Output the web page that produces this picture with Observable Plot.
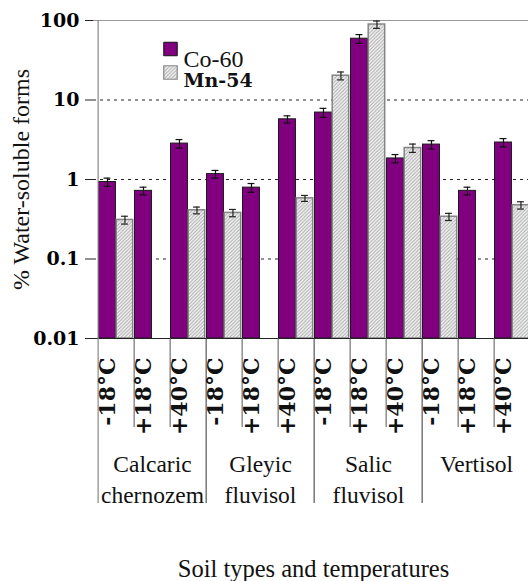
<!DOCTYPE html>
<html>
<head>
<meta charset="utf-8">
<script src="https://cdn.jsdelivr.net/npm/d3@7"></script>
<script src="https://cdn.jsdelivr.net/npm/@observablehq/plot@0.6"></script>
<style>
  html, body { margin: 0; padding: 0; background: #fff; overflow: hidden; }
  #chart svg { display: block; }
</style>
</head>
<body>
<div id="chart"></div>
<script>
// ---- data ----
const soils = ["Calcaric chernozem", "Gleyic fluvisol", "Salic fluvisol", "Vertisol"];
const soilLabels = ["Calcaric\nchernozem", "Gleyic\nfluvisol", "Salic\nfluvisol", "Vertisol"];
const temps = ["-18°C", "+18°C", "+40°C"];
const co60    = [0.93, 0.72, 2.83,  1.17, 0.79, 5.72,  6.95, 59, 1.84,  2.75, 0.72, 2.92];
const co60Err = [0.11, 0.08, 0.35,  0.13, 0.10, 0.60,  0.90, 7.5, 0.22, 0.33, 0.08, 0.35];
const mn54    = [0.31, null, 0.41,  0.38, null, 0.58,  20.2, 89, 2.49,  0.34, null, 0.475];
const mn54Err = [0.035, null, 0.04, 0.04, null, 0.05,  2.3, 9.5, 0.30,  0.035, null, 0.05];
const yTicks = [0.01, 0.1, 1, 10, 100];
const yTickLabels = ["0.01", "0.1", "1", "10", "100"];
const gridTicks = [0.1, 1, 10];
const seriesNames = ["Co-60", "Mn-54"];

// ---- tables built from the arrays ----
const cats = [];
soils.forEach(s => temps.forEach(t => cats.push(s + "|" + t)));
const coData = cats.map((c, i) => ({cat: c, v: co60[i], e: co60Err[i]}));
const mnData = cats.map((c, i) => ({cat: c, v: mn54[i], e: mn54Err[i]})).filter(d => d.v != null);
const soilStarts = soils.map(s => s + "|" + temps[0]);
const innerStarts = cats.filter(c => !soilStarts.includes(c));
const soilMids = soils.map((s, i) => ({cat: s + "|" + temps[1], label: soilLabels[i]}));

// ---- layout (style) ----
const W = 528, H = 581;
const mLeft = 93, xEnd = 534, mTop = 20, yBottom = 338;
const bw = (xEnd - mLeft) / cats.length;
const coIn = {insetLeft: 0.5, insetRight: bw - 18.2};
const mnIn = {insetLeft: 18.2, insetRight: 1.3};
const coC = (0.5 + 18.2) / 2;            // bar centre within band
const mnC = (18.2 + bw - 1.3) / 2;
const capHalf = 3.8;
const PURPLE = "#800080";
const yMin = yTicks[0];
const serif = "Liberation Serif";       // regular text
const serifBold = "DejaVu Serif";       // bold text

const chart = Plot.plot({
  width: W,
  height: H,
  marginLeft: mLeft,
  marginRight: 0,
  marginTop: mTop,
  marginBottom: H - yBottom,
  style: {fontFamily: serif, fontSize: "20px", color: "#000", background: "#fff", overflow: "hidden"},
  x: {type: "band", domain: cats, range: [mLeft, xEnd], padding: 0, axis: null},
  y: {type: "log", domain: [yTicks[0], yTicks[yTicks.length - 1]], axis: null},
  marks: [
    // grid
    Plot.ruleY(gridTicks, {stroke: "#222", strokeDasharray: "3,4", strokeWidth: 1}),
    Plot.ruleY([yTicks[yTicks.length - 1]], {stroke: "#999", strokeWidth: 1.2}),
    // bars
    Plot.barY(coData, {x: "cat", y1: yMin, y2: "v", fill: PURPLE, stroke: "#1a1a1a", strokeWidth: 1, ...coIn}),
    Plot.barY(mnData, {x: "cat", y1: yMin, y2: "v", fill: "url(#hatch)", stroke: "#858585", strokeWidth: 1.5, ...mnIn}),
    // error bars
    Plot.ruleX(coData, {x: "cat", y1: d => d.v - d.e, y2: d => d.v + d.e, dx: coC - bw / 2, stroke: "#111", strokeWidth: 1.2}),
    Plot.tickY(coData, {x: "cat", y: d => d.v + d.e, insetLeft: coC - capHalf, insetRight: bw - coC - capHalf, stroke: "#111", strokeWidth: 1.2}),
    Plot.tickY(coData, {x: "cat", y: d => d.v - d.e, insetLeft: coC - capHalf, insetRight: bw - coC - capHalf, stroke: "#111", strokeWidth: 1.2}),
    Plot.ruleX(mnData, {x: "cat", y1: d => d.v - d.e, y2: d => d.v + d.e, dx: mnC - bw / 2, stroke: "#222", strokeWidth: 1.2}),
    Plot.tickY(mnData, {x: "cat", y: d => d.v + d.e, insetLeft: mnC - capHalf, insetRight: bw - mnC - capHalf, stroke: "#222", strokeWidth: 1.2}),
    Plot.tickY(mnData, {x: "cat", y: d => d.v - d.e, insetLeft: mnC - capHalf, insetRight: bw - mnC - capHalf, stroke: "#222", strokeWidth: 1.2}),
    // bottom axis line
    Plot.ruleY([yMin], {stroke: "#222", strokeWidth: 1.2, insetLeft: -8}),
    // left axis line (continues down as the first separator)
    Plot.ruleX([cats[0]], {x: d => d, dx: -bw / 2, stroke: "#888", strokeWidth: 1.2, insetBottom: -165}),
    // separators below axis
    Plot.ruleX(soilStarts.slice(1), {x: d => d, y1: yMin, y2: yMin, dx: -bw / 2, stroke: "#333", strokeWidth: 1, insetBottom: -165}),
    Plot.ruleX(innerStarts, {x: d => d, y1: yMin, y2: yMin, dx: -bw / 2, stroke: "#555", strokeWidth: 1, insetBottom: -89}),
    // y axis
    Plot.axisY(yTicks, {tickFormat: d => yTickLabels[yTicks.indexOf(d)], tickSize: 8, tickPadding: 6,
      fontFamily: serifBold, fontSize: 19, fontWeight: "bold", stroke: "#222", label: null}),
    Plot.text(["% Water-soluble forms"], {frameAnchor: "left", rotate: -90, dx: -72, textAnchor: "middle",
      fontFamily: serif, fontSize: 24, fill: "#111"}),
    // temperature tick labels
    Plot.text(cats, {x: d => d, text: d => d.split("|")[1], frameAnchor: "bottom", rotate: -90,
      textAnchor: "end", dy: 19, dx: -2, fontFamily: serifBold, fontSize: 22, fontWeight: "bold", fill: "#111"}),
    // soil labels
    Plot.text(soilMids, {x: "cat", text: "label", frameAnchor: "bottom", lineAnchor: "top",
      dy: 112, lineHeight: 1.3, fontFamily: serif, fontSize: 23.5, fill: "#111"}),
    // x title
    Plot.text(["Soil types and temperatures"], {frameAnchor: "bottom", dx: 2.5, dy: 238,
      fontFamily: serif, fontSize: 24.5, fill: "#111"}),
    // legend
    Plot.dot([seriesNames[0]], {frameAnchor: "top-left", dx: 77, dy: 28.5, symbol: "square", r: 7.6,
      fill: PURPLE, stroke: "#111", strokeWidth: 1}),
    Plot.dot([seriesNames[1]], {frameAnchor: "top-left", dx: 77, dy: 52, symbol: "square", r: 7.6,
      fill: "url(#hatch)", stroke: "#888", strokeWidth: 1.2}),
    Plot.text([seriesNames[0]], {text: d => d, frameAnchor: "top-left", dx: 90, dy: 29, textAnchor: "start",
      fontFamily: serif, fontSize: 24, fill: "#111"}),
    Plot.text([seriesNames[1]], {text: d => d, frameAnchor: "top-left", dx: 90, dy: 53, textAnchor: "start",
      fontFamily: serifBold, fontSize: 19, fontWeight: "bold", fill: "#111"})
  ]
});

// hatch pattern definition
const ns = "http://www.w3.org/2000/svg";
const defs = document.createElementNS(ns, "defs");
defs.innerHTML = `<pattern id="hatch" patternUnits="userSpaceOnUse" width="3.5" height="3.5">
  <rect width="3.5" height="3.5" fill="#f2f2f2"></rect>
  <path d="M-1,1 L1,-1 M0,3.5 L3.5,0 M2.5,4.5 L4.5,2.5" stroke="#a8a8a8" stroke-width="0.9"></path>
</pattern>`;
chart.insertBefore(defs, chart.firstChild);
document.getElementById("chart").appendChild(chart);
</script>
</body>
</html>
